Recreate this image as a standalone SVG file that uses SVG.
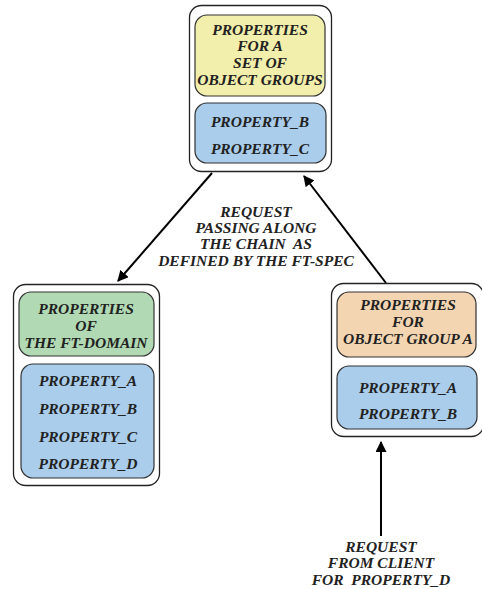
<svg xmlns="http://www.w3.org/2000/svg" width="482" height="589" viewBox="0 0 482 589">
<defs>
<style>
.outer{fill:#fff;stroke:#222;stroke-width:1.3}
.inner{stroke:#333;stroke-width:1.2}
.y{fill:#f2eeab}
.b{fill:#a9cdeb}
.g{fill:#b1dab4}
.o{fill:#f4d5b2}
text{font-family:"Liberation Serif","Times New Roman","DejaVu Serif",serif;font-weight:bold;font-style:italic;font-size:15.5px;fill:#222;text-anchor:middle}
.pre{white-space:pre}
.edge{stroke:#000;stroke-width:2;fill:none;marker-end:url(#ah)}
</style>
<marker id="ah" viewBox="0 0 10 10" refX="9" refY="5" markerWidth="5.5" markerHeight="5.5" orient="auto" markerUnits="strokeWidth">
<path d="M0,0 L10,5 L0,10 z" fill="#000"/>
</marker>
</defs>
<g id="connectors">
<line class="edge" x1="212" y1="173" x2="118" y2="281"/>
<line class="edge" x1="386" y1="283" x2="304" y2="176"/>
<line class="edge" x1="381" y1="536" x2="381" y2="442"/>
</g>
<g id="top">
<rect class="outer" x="189.5" y="5.5" width="142" height="166" rx="12"/>
<rect class="inner y" x="195" y="15" width="130" height="81" rx="12"/>
<rect class="inner b" x="195" y="103" width="131" height="60" rx="12"/>
<text x="260" y="35">PROPERTIES</text>
<text x="260" y="51">FOR A</text>
<text x="260" y="68">SET OF</text>
<text x="260" y="85">OBJECT GROUPS</text>
<text x="260" y="127">PROPERTY_B</text>
<text x="260" y="154">PROPERTY_C</text>
</g>
<g id="left">
<rect class="outer" x="13.5" y="284.5" width="146" height="201" rx="12"/>
<rect class="inner g" x="19" y="292" width="135" height="64" rx="12"/>
<rect class="inner b" x="21" y="364" width="133" height="114" rx="12"/>
<text x="86" y="314">PROPERTIES</text>
<text x="86" y="331">OF</text>
<text x="86" y="348">THE FT-DOMAIN</text>
<text x="88" y="386">PROPERTY_A</text>
<text x="88" y="414">PROPERTY_B</text>
<text x="88" y="442">PROPERTY_C</text>
<text x="88" y="469">PROPERTY_D</text>
</g>
<g id="right">
<rect class="outer" x="331.5" y="283.5" width="152" height="153" rx="12"/>
<rect class="inner o" x="337" y="292" width="139" height="65" rx="12"/>
<rect class="inner b" x="337" y="366" width="140" height="63" rx="12"/>
<text x="408" y="310">PROPERTIES</text>
<text x="408" y="327">FOR</text>
<text x="408" y="344">OBJECT GROUP A</text>
<text x="408" y="393">PROPERTY_A</text>
<text x="408" y="419">PROPERTY_B</text>
</g>
<g id="label-chain">
<text x="256" y="217">REQUEST</text>
<text x="256" y="233">PASSING ALONG</text>
<text class="pre" x="256" y="249">THE CHAIN  AS</text>
<text x="256" y="266">DEFINED BY THE FT-SPEC</text>
</g>
<g id="label-client">
<text x="381" y="552">REQUEST</text>
<text x="381" y="568">FROM CLIENT</text>
<text class="pre" x="381" y="585">FOR  PROPERTY_D</text>
</g>
</svg>
